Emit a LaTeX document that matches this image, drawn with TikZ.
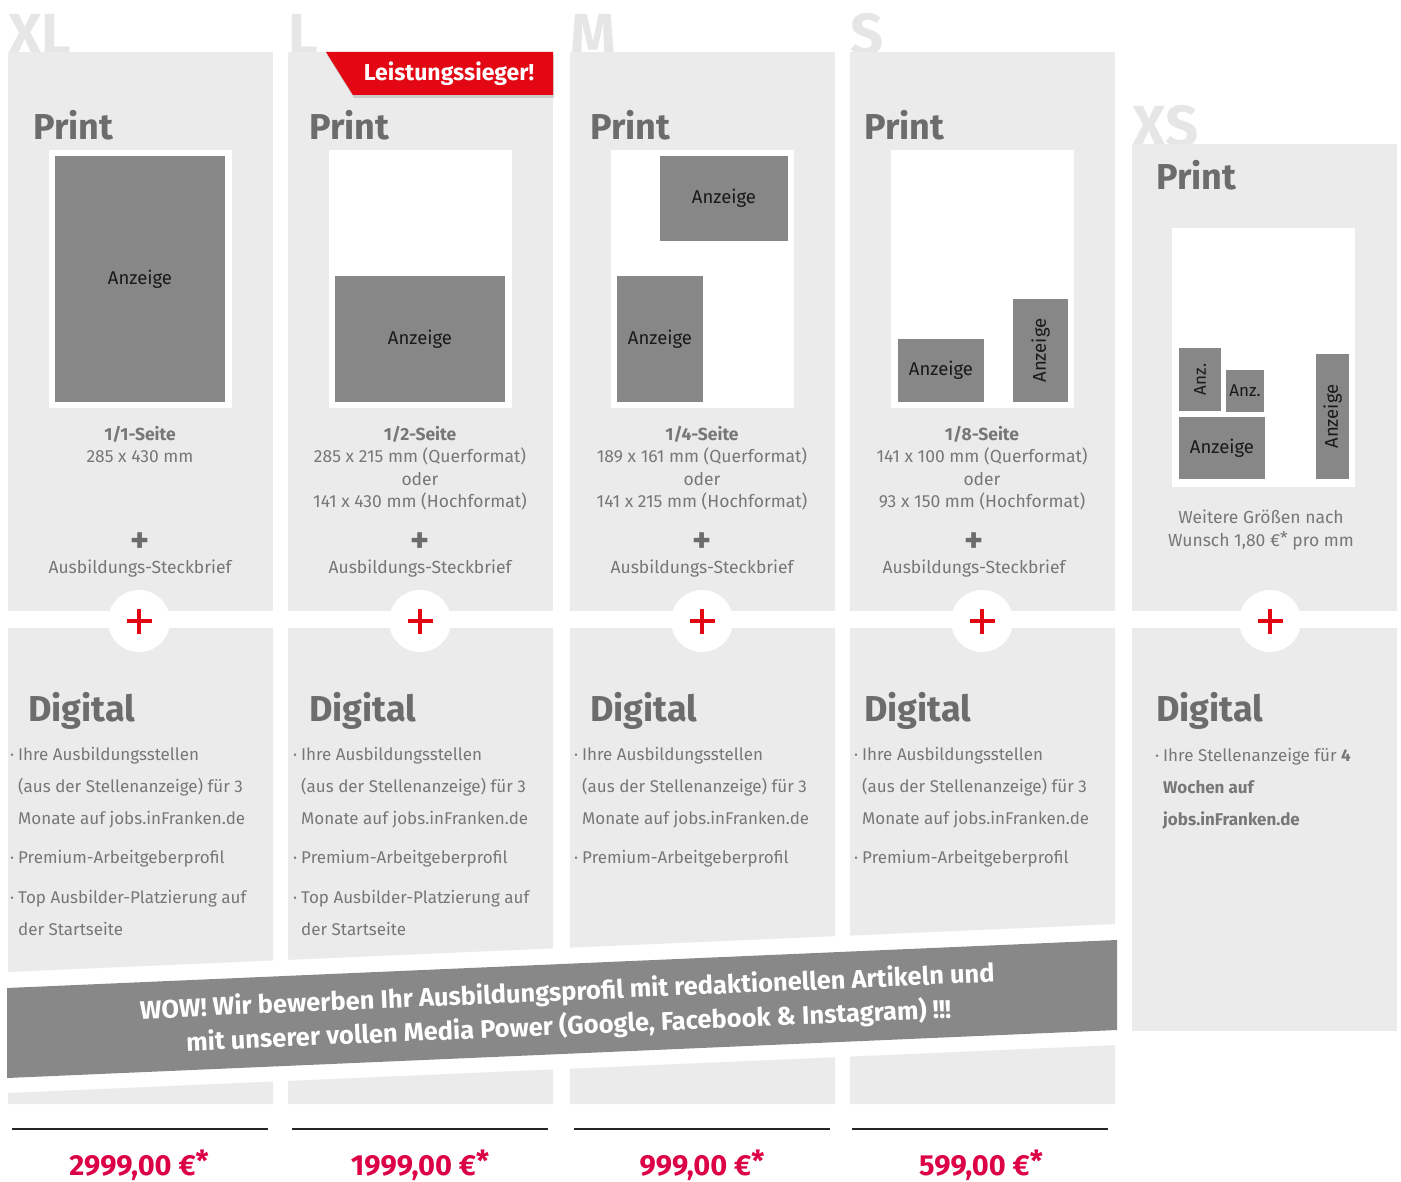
\documentclass[tikz,border=0pt]{standalone}
\usepackage{fontspec}
\setmainfont{Fira Sans}
\usetikzlibrary{shadows}

\definecolor{panelgray}{HTML}{EBEBEB}
\definecolor{adgray}{HTML}{878787}
\definecolor{bannergray}{HTML}{888888}
\definecolor{titlegray}{HTML}{6C6C6C}
\definecolor{textgray}{HTML}{777777}
\definecolor{lettergray}{HTML}{E6E6E6}
\definecolor{badgered}{HTML}{E30613}
\definecolor{pricered}{HTML}{DC0045}

\newcommand\punkt{\llap{·\hspace{4pt}}}
\newcommand\sternchen{\raisebox{0.25ex}{*}}

\tikzset{
	panel/.style={fill=panelgray},
	page/.style={fill=white},
	ad/.style={fill=adgray, text=black!90, inner sep=0pt, font=\fontsize{18.5}{21}\selectfont},
	sizeletter/.style={anchor=base west, inner sep=0pt, text=lettergray, font=\fontsize{58}{60}\selectfont\bfseries},
	heading/.style={anchor=base west, inner sep=0pt, text=titlegray, font=\fontsize{36}{40}\selectfont\bfseries},
	info/.style={anchor=north, inner sep=0pt, text=textgray, align=center, font=\fontsize{17.5}{22.5}\selectfont},
	steckplus/.style={inner sep=0pt, text=titlegray, font=\fontsize{36}{36}\selectfont\bfseries},
	bullet/.style={anchor=north west, inner sep=0pt, text=textgray, align=left, font=\fontsize{17}{32}\selectfont},
	pluscircle/.style={circle, fill=white, minimum size=62pt, inner sep=0pt},
	redcross/.style={badgered, line width=4.5pt},
	bannertext/.style={inner sep=0pt, text=white, align=center, rotate=2.48, font=\fontsize{25.5}{34}\selectfont\bfseries},
	badgetext/.style={inner sep=0pt, text=white, font=\fontsize{23}{25}\selectfont\bfseries},
	priceline/.style={line width=1.5pt, black!85},
	price/.style={anchor=base, inner sep=0pt, text=pricered, font=\fontsize{29}{31}\selectfont\bfseries},
}

\begin{document}
\begin{tikzpicture}[x=1pt,y=-1pt]
	\useasboundingbox (0,0) rectangle (1401,1182);

	% size letters, partly hidden by the panels
	\foreach \px/\ptop/\nm in {8/52/XL,288/52/L,570/52/M,850/52/S,1132/144/XS}
		\node[sizeletter] (letter\nm) at (\px,\ptop+3) {\nm};

	% print panels
	\foreach \px/\ptop in {8/52,288/52,570/52,850/52,1132/144}
		\fill[panel] (\px,\ptop) rectangle (\px+265,611);

	% digital panels, slanted bottoms
	\foreach \px/\bl/\br in {8/972/960.5,288/959.9/948.4,570/947.7/936.2,850/935.6/924.1}
		\fill[panel] (\px,628) -- (\px+265,628) -- (\px+265,\br) -- (\px,\bl) -- cycle;
	\fill[panel] (1132,628) rectangle (1397,1031);

	% panels under the banner
	\foreach \px/\tl/\tr in {8/1093/1081.5,288/1080.9/1069.4,570/1068.7/1057.2,850/1056.6/1045.1}
		\fill[panel] (\px,\tl) -- (\px+265,\tr) -- (\px+265,1104) -- (\px,1104) -- cycle;

	% banner
	\fill[bannergray] (7,988) -- (1117,940) -- (1117,1030) -- (7,1078) -- cycle;
	\node[bannertext] (wow) at (568,1010) {WOW! Wir bewerben Ihr Ausbildungsprofil mit redaktionellen Artikeln und\\mit unserer vollen Media Power (Google, Facebook \& Instagram) !!!};

	% badge
	\fill[badgered, drop shadow={shadow xshift=1pt, shadow yshift=-3pt, opacity=.3}] (326,52) -- (553,52) -- (553,95) -- (353,95) -- cycle;
	\node[badgetext] (sieger) at (449,74) {Leistungssieger!};

	% headings
	\foreach \hx/\hy/\dx/\nm in {33/140/28/XL,309/140/309/L,590/140/590/M,864/140/864/S,1156/190/1156/XS} {
		\node[heading] (print\nm) at (\hx,\hy) {Print};
		\node[heading] (digital\nm) at (\dx,721) {Digital};
	}

	% pages
	\fill[page] (49,150) rectangle (232,408);
	\fill[page] (329,150) rectangle (512,408);
	\fill[page] (611,150) rectangle (794,408);
	\fill[page] (891,150) rectangle (1074,408);
	\fill[page] (1172,228) rectangle (1355,487);

	% ads
	\node[ad, minimum width=170, minimum height=246] (adXL) at (140,279) {Anzeige};
	\node[ad, minimum width=170, minimum height=126] (adL) at (420,339) {Anzeige};
	\node[ad, minimum width=128, minimum height=85] (adMa) at (724,198.5) {Anzeige};
	\node[ad, minimum width=86, minimum height=126] (adMb) at (660,339) {Anzeige};
	\node[ad, minimum width=86, minimum height=63] (adSa) at (941,370.5) {Anzeige};
	\node[ad, minimum width=103, minimum height=55, rotate=90] (adSb) at (1040.5,350.5) {Anzeige};
	\node[ad, minimum width=63, minimum height=42, rotate=90, font=\fontsize{17}{19}\selectfont] (adXSa) at (1200,379.5) {Anz.};
	\node[ad, minimum width=38, minimum height=42, font=\fontsize{17}{19}\selectfont] (adXSb) at (1245,391) {Anz.};
	\node[ad, minimum width=86, minimum height=62] (adXSc) at (1222,448) {Anzeige};
	\node[ad, minimum width=125, minimum height=33, rotate=90] (adXSd) at (1332.5,416.5) {Anzeige};

	% formats
	\node[info] (sizeXL) at (140,426) {\textbf{1/1-Seite}\\285 x 430 mm};
	\node[info] (sizeL) at (420,426) {\textbf{1/2-Seite}\\285 x 215 mm (Querformat)\\oder\\141 x 430 mm (Hochformat)};
	\node[info] (sizeM) at (702,426) {\textbf{1/4-Seite}\\189 x 161 mm (Querformat)\\oder\\141 x 215 mm (Hochformat)};
	\node[info] (sizeS) at (982,426) {\textbf{1/8-Seite}\\141 x 100 mm (Querformat)\\oder\\93 x 150 mm (Hochformat)};
	\node[info] (sizeXS) at (1261,510) {Weitere Größen nach\\Wunsch 1,80 €\sternchen{} pro mm};

	\foreach \cx/\nm in {140/XL,420/L,702/M,974/S} {
		\node[steckplus] (steckplus\nm) at (\cx,543) {+};
		\node[info, anchor=base] (steck\nm) at (\cx,573) {Ausbildungs-Steckbrief};
	}

	% red plus between print and digital
	\foreach \cx/\nm in {139/XL,420/L,702/M,982/S,1270/XS} {
		\node[pluscircle] (join\nm) at (\cx,621) {};
		\draw[redcross] ([xshift=-12.5pt]join\nm.center) -- ([xshift=12.5pt]join\nm.center);
		\draw[redcross] ([yshift=-12.5pt]join\nm.center) -- ([yshift=12.5pt]join\nm.center);
	}

	% digital lists
	\foreach \bx/\nm in {18/XL,301/L}
		\node[bullet] (list\nm) at (\bx,747) {\punkt Ihre Ausbildungsstellen\\(aus der Stellenanzeige) für 3\\Monate auf jobs.inFranken.de\\[7pt]\punkt Premium-Arbeitgeberprofil\\[8pt]\punkt Top Ausbilder-Platzierung auf\\der Startseite};
	\foreach \bx/\nm in {582/M,862/S}
		\node[bullet] (list\nm) at (\bx,747) {\punkt Ihre Ausbildungsstellen\\(aus der Stellenanzeige) für 3\\Monate auf jobs.inFranken.de\\[7pt]\punkt Premium-Arbeitgeberprofil};
	\node[bullet] (listXS) at (1163,748) {\punkt Ihre Stellenanzeige für \textbf{4}\\\textbf{Wochen auf}\\\textbf{jobs.inFranken.de}};

	% prices
	\foreach \lx/\cx/\val/\nm in {12/139/2999/XL,292/420/1999/L,574/702/999/M,852/981/599/S} {
		\draw[priceline] (\lx,1129) -- (\lx+256,1129);
		\node[price] (price\nm) at (\cx,1175) {\val,00 €\sternchen};
	}
\end{tikzpicture}
\end{document}
